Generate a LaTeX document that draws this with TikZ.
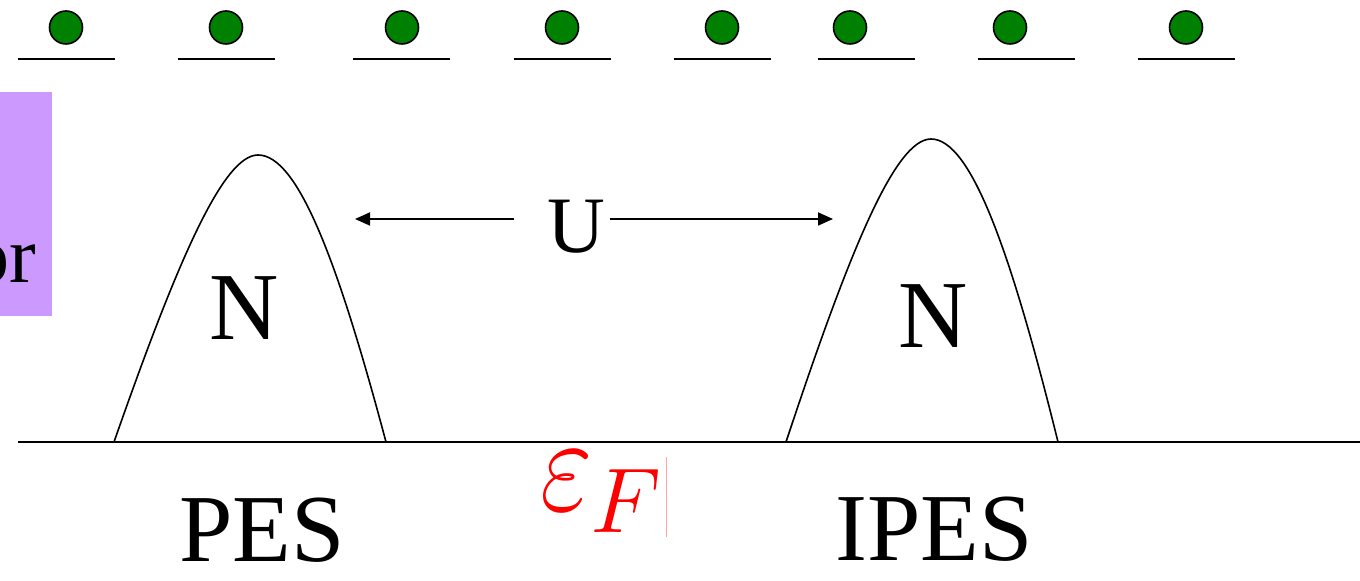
\RequirePackage{fix-cm}
\documentclass[tikz,border=0pt]{standalone}
\usepackage[no-math]{fontspec}
\setmainfont{Liberation Serif}
\usetikzlibrary{arrows.meta}
\definecolor{dotgreen}{RGB}{0,128,0}
\definecolor{boxlilac}{RGB}{204,153,255}

\begin{document}
\begin{tikzpicture}[
        x = {(0.5pt,0)}, y = {(0,-0.5pt)},
        dot/.style   = {circle, draw, line width=0.8pt, fill=dotgreen, minimum size=16.5pt, inner sep=0pt},
        level/.style = {line width=0.9pt},
        band/.style  = {line width=0.8pt},
        big/.style   = {font=\fontsize{48}{58}\selectfont, inner sep=0pt},
        arr/.style   = {line width=0.9pt, -{Triangle[length=7.5pt,width=6.5pt]}}
    ]
        \useasboundingbox (0,0) rectangle (1360,581);
        % occupied levels
        \foreach \cx/\lx [count=\i] in {66/18, 226/178, 402/353, 562/514, 722/674, 850/818, 1010/978, 1186/1138} {
            \draw[level] (\lx,59) -- ++(97,0);
            \node[dot] (e\i) at (\cx,27.5) {};
        }
        % cut-off box on the left
        \fill[boxlilac] (0,92) rectangle (52,316);
        \begin{scope}
            \clip (0,92) rectangle (52,316);
            \node[font=\fontsize{40}{48}\selectfont, inner sep=0pt, anchor=base east] (or) at (37,283) {or};
        \end{scope}
        % spectra
        \draw[band] (114,442) .. controls (177,262) and (223,155) .. (258,155)
                              .. controls (298,155) and (338,262) .. (386,442);
        \draw[band] (786,442) .. controls (849,252) and (895,139) .. (931,139)
                              .. controls (971,139) and (1011,252) .. (1058,442);
        \draw[level] (18,442) -- (1360,442);
        \node[big, anchor=base] (nl) at (244,340) {N};
        \node[big, anchor=base] (nr) at (933,348) {N};
        \node[big, anchor=base] (pes)  at (262,562) {PES};
        \node[big, anchor=base] (ipes) at (934,561) {IPES};
        % Coulomb energy
        \node[font=\fontsize{40}{48}\selectfont, inner sep=0pt, anchor=base] (U) at (576,253) {U};
        \coordinate (ul) at (355,219);
        \coordinate (ur) at (833,219);
        \path ([xshift=-16.5pt]U.west) coordinate (ua);
        \path ([xshift=2.5pt]U.east) coordinate (ub);
        \draw[arr] (ua |- ul) -- (ul);
        \draw[arr] (ub |- ur) -- (ur);
        % Fermi level
        \node[red, inner sep=0pt, anchor=base, yscale=1.2, font=\fontsize{57}{64}\selectfont] (eps) at (567,511) {$\varepsilon$};
        \node[red, inner sep=0pt, anchor=base, font=\fontsize{46}{54}\selectfont] (F) at (626,533) {$F$};
        \draw[red!35, line width=0.5pt] (666,457) -- (666,537);
\end{tikzpicture}
\end{document}
